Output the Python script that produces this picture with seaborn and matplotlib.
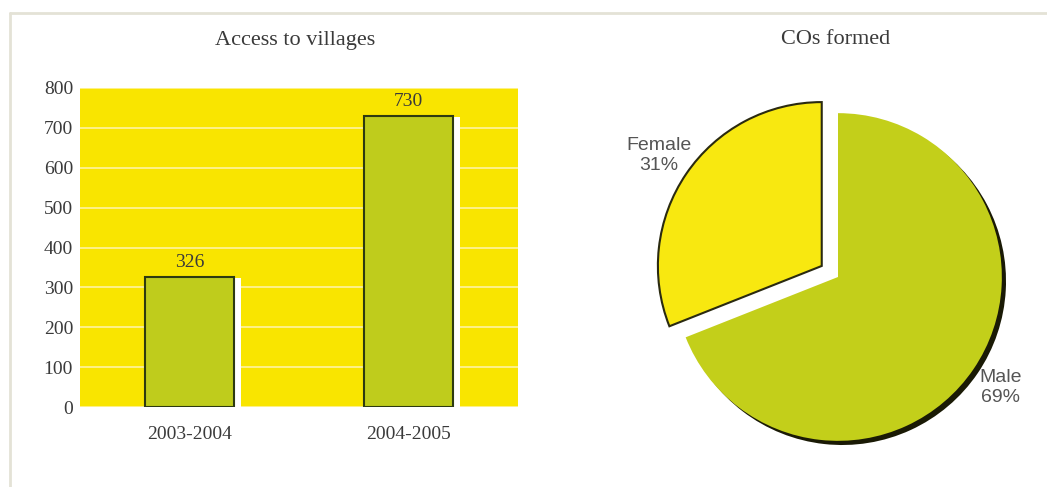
import matplotlib
matplotlib.use("Agg")
import matplotlib.pyplot as plt
import matplotlib.patheffects as pe
from matplotlib.lines import Line2D
import seaborn as sns
import pandas as pd

# ---- data ----
periods = ["2003-2004", "2004-2005"]
villages = [326, 730]
y_ticks = [0, 100, 200, 300, 400, 500, 600, 700, 800]

co_labels = ["Female", "Male"]
co_shares = [31, 69]

sns.set_theme(style="white")
plt.rcParams["font.family"] = ["Liberation Serif", "DejaVu Serif"]

YELLOW = "#F9E500"
GREEN = "#BFCC1C"
PIE_YELLOW = "#F8E810"
PIE_GREEN = "#C3CF1A"
TEXT = "#3a3a3a"

fig = plt.figure(figsize=(10.47, 4.87), dpi=100)
fig.patch.set_facecolor("white")

# frame lines
fig.add_artist(Line2D([10/1047, 10/1047], [0, 1 - 13/487], transform=fig.transFigure,
                      color="#E4E2D6", lw=2))
fig.add_artist(Line2D([10/1047, 1], [1 - 13/487, 1 - 13/487], transform=fig.transFigure,
                      color="#E4E2D6", lw=2))

# ---- bar chart ----
ax = fig.add_axes([80/1047, 1 - 407/487, 438/1047, 319/487])
df = pd.DataFrame({"period": periods, "villages": villages})
sns.barplot(data=df, x="period", y="villages", ax=ax, color=GREEN, saturation=1,
            width=0.41, edgecolor="#2d3a10", linewidth=1.5, zorder=3)
for p in ax.patches:
    p.set_path_effects([pe.SimplePatchShadow(offset=(5, -1), shadow_rgbFace="white", alpha=1.0),
                        pe.Normal()])
ax.set_facecolor(YELLOW)
ax.set_ylim(0, 800)
ax.set_yticks(y_ticks)
ax.set_yticklabels([str(t) for t in y_ticks], color=TEXT, fontsize=14)
ax.tick_params(axis="x", labelsize=14, labelcolor=TEXT, pad=14, length=0)
ax.tick_params(axis="y", length=0, pad=5)
ax.set_xlabel("")
ax.set_ylabel("")
for s in ax.spines.values():
    s.set_visible(False)
ax.yaxis.grid(True, color="#FFF3A0", lw=1.2, zorder=0)
ax.set_axisbelow(True)
for i, v in enumerate(villages):
    ax.text(i, v + 14, str(v), ha="center", va="bottom", fontsize=14, color=TEXT)
fig.text(295/1047, 1 - 40/487, "Access to villages", ha="center", va="center",
         fontsize=16, color=TEXT)

# ---- pie chart ----
ax2 = fig.add_axes([625/1047, -3/487, 426/1047, 426/487])
wedges, texts = ax2.pie(co_shares, labels=[f"{l}\n{s}%" for l, s in zip(co_labels, co_shares)],
                        colors=[PIE_YELLOW, PIE_GREEN], startangle=90, counterclock=True,
                        explode=[0.12, 0], labeldistance=1.2,
                        textprops=dict(color="#555555", fontsize=14, linespacing=1.25,
                                       family=["Liberation Sans", "DejaVu Sans"]))
wedges[0].set_edgecolor("#2a2a10")
wedges[0].set_linewidth(1.5)
wedges[1].set_edgecolor("none")
wedges[1].set_path_effects([pe.SimplePatchShadow(offset=(3, -3), shadow_rgbFace="#1a1a05", alpha=1.0),
                            pe.Normal()])
for t in texts:
    t.set_ha("center")
    t.set_multialignment("center")
ax2.set_xlim(-1.3, 1.3)
ax2.set_ylim(-1.3, 1.3)
ax2.set_aspect("equal")
fig.text(836/1047, 1 - 40/487, "COs formed", ha="center", va="center", fontsize=16, color=TEXT)

fig.savefig("out.png", dpi=100)
